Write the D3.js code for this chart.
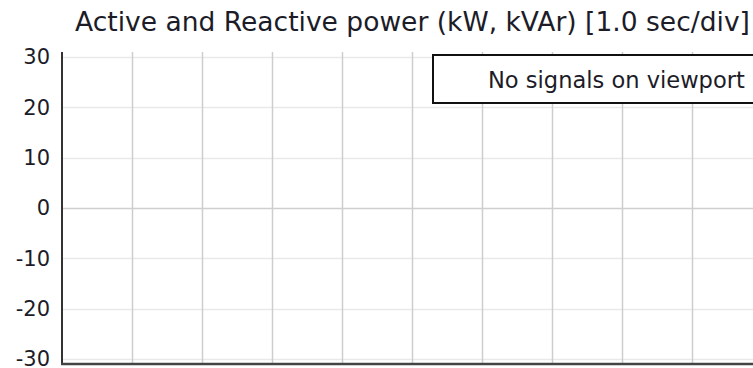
<!DOCTYPE html>
<html>
<head>
<meta charset="utf-8">
<script src="https://cdn.jsdelivr.net/npm/d3@7"></script>
<style>
  html, body { margin: 0; padding: 0; background: #ffffff; overflow: hidden; }
  svg { display: block; }
  text { font-family: "DejaVu Sans", Verdana, sans-serif; fill: #1c1c28; }
</style>
</head>
<body>
<svg id="chart" width="753" height="368"></svg>
<script>
// Chart content
const titleText = "Active and Reactive power (kW, kVAr) [1.0 sec/div]";
const legendText = "No signals on viewport";
const yTickValues = [-30, -20, -10, 0, 10, 20, 30];
const yDomain = [-31, 31];
const timeDivisions = [0, 1, 2, 3, 4, 5, 6, 7, 8, 9, 10]; // seconds, 1.0 s per division
const activePower = [];   // kW samples (none in view)
const reactivePower = []; // kVAr samples (none in view)

const svg = d3.select("#chart");
const plot = { left: 62, top: 52, bottom: 364, right: 762 };

const x = d3.scaleLinear().domain([timeDivisions[0], timeDivisions[timeDivisions.length - 1]])
  .range([plot.left, plot.right]);
const y = d3.scaleLinear().domain(yDomain).range([plot.bottom, plot.top]);

// Scale a text's font size so it spans a given width
function fitWidth(sel, width) {
  const fs = parseFloat(sel.attr("font-size"));
  const w = sel.node().getComputedTextLength();
  if (w > 0) sel.attr("font-size", (fs * width / w).toFixed(2));
}

// Horizontal grid
svg.append("g").selectAll("line").data(yTickValues).join("line")
  .attr("x1", plot.left).attr("x2", plot.right)
  .attr("y1", d => Math.round(y(d)) + 0.5).attr("y2", d => Math.round(y(d)) + 0.5)
  .attr("stroke", d => d === 0 ? "#cfcfcf" : "#e9e9e9")
  .attr("stroke-width", 1.5);

// Vertical grid, one line per division
svg.append("g").selectAll("line").data(timeDivisions.slice(1)).join("line")
  .attr("x1", d => Math.round(x(d)) + 0.5).attr("x2", d => Math.round(x(d)) + 0.5)
  .attr("y1", plot.top).attr("y2", plot.bottom)
  .attr("stroke", "#cdcdcd")
  .attr("stroke-width", 1.5);

// Signal traces (empty when nothing is in the viewport)
const line = d3.line().x(d => x(d.t)).y(d => y(d.v));
[activePower, reactivePower].forEach((s, i) => {
  if (s.length) svg.append("path").datum(s).attr("d", line)
    .attr("fill", "none").attr("stroke", i ? "#d03030" : "#3050d0");
});

// Y axis
const yAxis = d3.axisLeft(y).tickValues(yTickValues).tickFormat(d => String(d))
  .tickSize(0).tickPadding(12);
const gy = svg.append("g").attr("transform", `translate(${plot.left},0)`).call(yAxis);
gy.select(".domain").remove();
gy.selectAll("text").attr("font-size", 21).style("font-family", null);
gy.attr("font-family", null);

svg.append("line")
  .attr("x1", plot.left).attr("x2", plot.left)
  .attr("y1", plot.top).attr("y2", plot.bottom + 1)
  .attr("stroke", "#333").attr("stroke-width", 2);
svg.append("line")
  .attr("x1", plot.left - 1).attr("x2", plot.right)
  .attr("y1", plot.bottom).attr("y2", plot.bottom)
  .attr("stroke", "#444").attr("stroke-width", 2.5);

// Title
const title = svg.append("text")
  .attr("x", 75).attr("y", 31)
  .attr("font-size", 26)
  .text(titleText);
fitWidth(title, 675);

// Legend box
svg.append("rect")
  .attr("x", 433).attr("y", 55).attr("width", 330).attr("height", 48)
  .attr("fill", "#fff").attr("stroke", "#111").attr("stroke-width", 2);
const legend = svg.append("text")
  .attr("x", 488).attr("y", 88)
  .attr("font-size", 22)
  .text(legendText);
fitWidth(legend, 257);
</script>
</body>
</html>
